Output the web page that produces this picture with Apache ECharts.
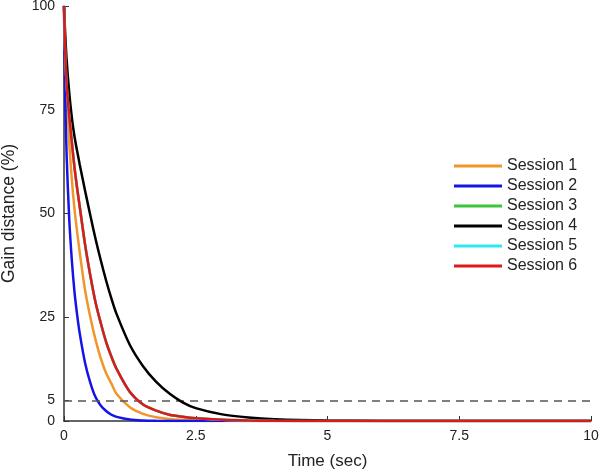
<!DOCTYPE html>
<html>
<head>
<meta charset="utf-8">
<script src="https://cdn.jsdelivr.net/npm/echarts@6/dist/echarts.min.js"></script>
<style>html,body{margin:0;padding:0;background:#fff}#c{width:600px;height:472px}</style>
</head>
<body>
<div id="c"></div>
<script>
const times    = [0, 0.02, 0.05, 0.1, 0.15, 0.2, 0.25, 0.3, 0.4, 0.5, 0.6, 0.7, 0.8, 0.9, 1.0, 1.25, 1.5, 1.75, 2, 2.25, 2.5, 3, 3.5, 4, 5, 6, 8, 10];
const session1 = [100, 91, 81, 67, 58, 51, 45.5, 40.5, 31.5, 25, 19.5, 15, 11.5, 9, 6.5, 3.3, 1.7, 0.9, 0.5, 0.28, 0.15, 0.05, 0.02, 0, 0, 0, 0, 0];
const session2 = [100, 80, 64, 48.5, 38.5, 31, 25.5, 21, 14, 9.2, 5.7, 3.7, 2.4, 1.5, 1, 0.35, 0.12, 0.04, 0.01, 0, 0, 0, 0, 0, 0, 0, 0, 0];
const session3 = [100, 90, 81, 73.5, 67, 61, 56, 51.5, 42.5, 35, 28.5, 23.5, 19, 15.5, 12.5, 7, 4, 2.5, 1.5, 1, 0.65, 0.3, 0.13, 0.06, 0.01, 0, 0, 0];
const session4 = [100, 94, 87, 79, 73, 68.5, 65, 61.7, 55.5, 49.5, 43.8, 38.6, 33.8, 29.5, 25.7, 18.3, 13.2, 9.4, 6.6, 4.5, 3.1, 1.6, 0.85, 0.45, 0.12, 0.03, 0, 0];
const session5 = [100, 90, 81, 73.5, 67, 61, 56, 51.5, 42.5, 35, 28.5, 23.5, 19, 15.5, 12.5, 7, 4, 2.5, 1.5, 1, 0.65, 0.3, 0.13, 0.06, 0.01, 0, 0, 0];
const session6 = [100, 90, 81, 73.5, 67, 61, 56, 51.5, 42.5, 35, 28.5, 23.5, 19, 15.5, 12.5, 7, 4, 2.5, 1.5, 1, 0.65, 0.3, 0.13, 0.06, 0.01, 0, 0, 0];
const sessionNames = ['Session 1','Session 2','Session 3','Session 4','Session 5','Session 6'];
const sessionColors = ['#f0962a','#1414e6','#3cc43c','#000000','#2ee8f0','#e01818'];
const yTickValues = [0, 5, 25, 50, 75, 100];
const xTickLabels = ['0','2.5','5','7.5','10'];
const thresholdValue = 5;

const allData = [session1, session2, session3, session4, session5, session6];
const font = 'Liberation Sans, Arial, sans-serif';
const series = allData.map((vals, i) => ({
  name: sessionNames[i],
  type: 'line',
  data: times.map((t, j) => [t, vals[j]]),
  showSymbol: false,
  symbol: 'none',
  smooth: 0.3,
  lineStyle: { width: 2.5, color: sessionColors[i] },
  itemStyle: { color: sessionColors[i] },
  z: 2 + i
}));
series[0].markLine = {
  silent: true,
  symbol: 'none',
  label: { show: false },
  lineStyle: { type: [8, 6], color: '#555', width: 1.5 },
  data: [{ yAxis: thresholdValue }]
};

const chart = echarts.init(document.getElementById('c'), null, { renderer: 'canvas' });
chart.setOption({
  animation: false,
  backgroundColor: '#fff',
  grid: { left: 64, right: 9, top: 6, bottom: 51, containLabel: false, outerBoundsMode: 'none' },
  legend: {
    data: sessionNames,
    orient: 'vertical',
    left: 454,
    top: 158,
    icon: 'rect',
    itemWidth: 48,
    itemHeight: 3,
    itemGap: 4,
    padding: 0,
    textStyle: { fontFamily: font, fontSize: 16, lineHeight: 16, color: '#222' }
  },
  xAxis: {
    type: 'value', min: 0, max: 10, interval: 2.5,
    name: 'Time (sec)', nameLocation: 'middle', nameGap: 32,
    nameTextStyle: { fontFamily: font, fontSize: 17, color: '#222' },
    axisLine: { lineStyle: { color: '#333', width: 1.5 } },
    axisTick: { inside: true, length: 5, lineStyle: { color: '#333' } },
    axisLabel: { fontFamily: font, fontSize: 14, color: '#222', margin: 8,
      formatter: (v) => { const k = Math.round(v / 2.5); return xTickLabels[k] !== undefined ? xTickLabels[k] : ''; } },
    splitLine: { show: false }
  },
  yAxis: {
    type: 'value', min: 0, max: 100, interval: 5,
    name: 'Gain distance (%)', nameLocation: 'middle', nameGap: 46,
    nameTextStyle: { fontFamily: font, fontSize: 17.5, color: '#222' },
    axisLine: { show: true, lineStyle: { color: '#333', width: 1.5 } },
    axisTick: { show: true, inside: true, length: 5, customValues: yTickValues, lineStyle: { color: '#333' } },
    axisLabel: { fontFamily: font, fontSize: 14, color: '#222', margin: 9, customValues: yTickValues },
    splitLine: { show: false }
  },
  series: series
});
</script>
</body>
</html>
